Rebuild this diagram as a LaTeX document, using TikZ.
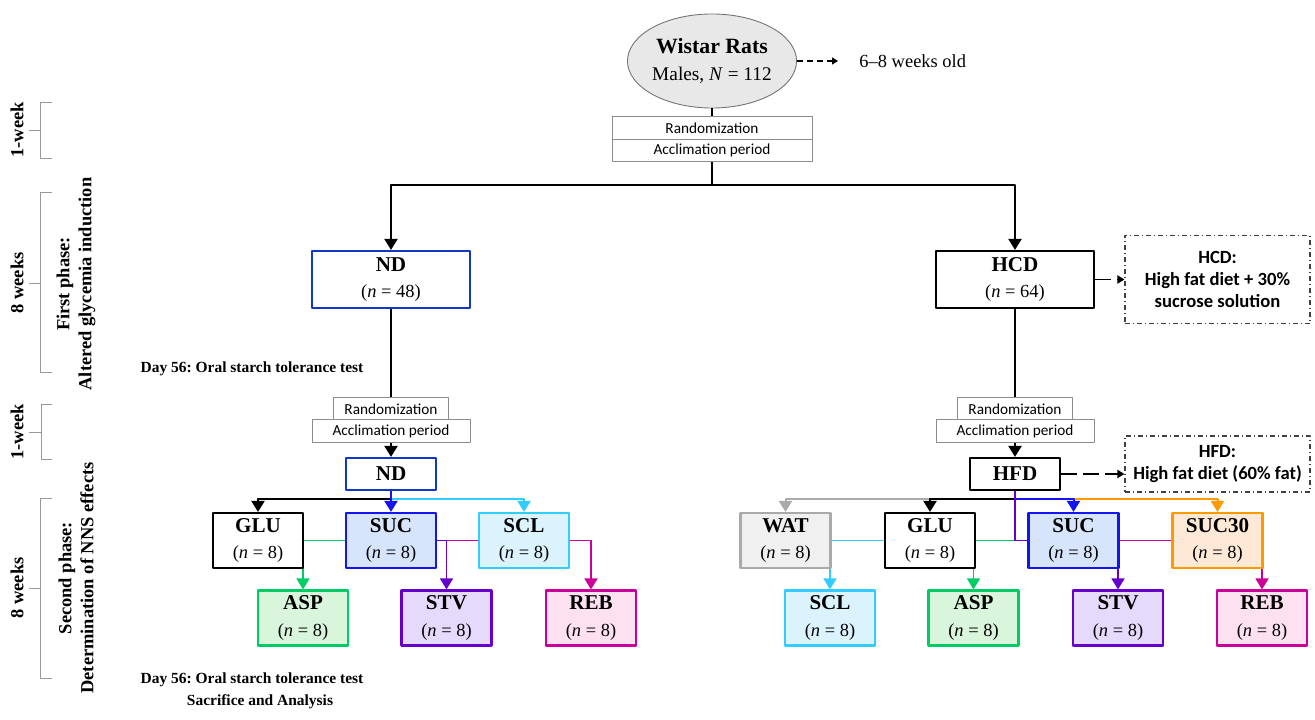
\documentclass[tikz,border=0pt]{standalone}
\usepackage{fontspec}
\setmainfont{Liberation Serif}
\newfontfamily\calibri{Carlito}
\usetikzlibrary{arrows.meta,shapes.geometric,backgrounds}
\definecolor{ratgray}{RGB}{232,232,232}
\definecolor{ndblue}{RGB}{16,56,196}
\definecolor{sucblue}{RGB}{20,20,240}
\definecolor{sucfill}{RGB}{214,228,252}
\definecolor{sclcyan}{RGB}{51,204,255}
\definecolor{sclfill}{RGB}{218,243,253}
\definecolor{aspgreen}{RGB}{0,204,102}
\definecolor{aspfill}{RGB}{217,245,220}
\definecolor{stvpurple}{RGB}{102,0,204}
\definecolor{stvfill}{RGB}{230,218,252}
\definecolor{rebpink}{RGB}{204,0,153}
\definecolor{rebfill}{RGB}{253,225,240}
\definecolor{sucorange}{RGB}{255,153,0}
\definecolor{orangefill}{RGB}{253,233,214}
\definecolor{watgray}{RGB}{170,170,170}
\definecolor{watfill}{RGB}{240,240,240}
\newcommand{\grpname}[1]{{\fontsize{12}{15}\selectfont\bfseries #1}}
\frenchspacing
\begin{document}
\begin{tikzpicture}[x=0.2mm,y=-0.2mm,line join=round,>={Triangle[width=2.6mm,length=2.2mm]},
	box/.style={draw,fill=white,line width=1.2pt,inner sep=0pt,align=center,minimum width=18mm,minimum height=11mm,font=\fontsize{10.5}{15}\selectfont},
	wide/.style={box,minimum width=31.6mm,minimum height=11.4mm},
	diet/.style={box,minimum height=6.4mm},
	rnd/.style={draw=black!45,fill=white,line width=0.5pt,inner sep=0pt,minimum height=4.5mm,font=\calibri\fontsize{8.7}{10}\selectfont},
	note/.style={draw=black!75,line width=0.6pt,dash pattern=on 1mm off 0.6mm on 0.2mm off 0.6mm,inner sep=0pt,minimum width=37mm,align=center,font=\calibri\bfseries\fontsize{10.6}{12.5}\selectfont},
	wire/.style={line width=0.4mm},
	link/.style={wire,->},
	clink/.style={line width=0.3mm,->},
	nlink/.style={line width=0.35mm,dash pattern=on 3.2mm off 1.2mm,-{Triangle[width=1.6mm,length=1.4mm]}},
	side/.style={rotate=90,align=center,font=\bfseries\fontsize{10.5}{12.5}\selectfont},
	brk/.style={draw=black!40,line width=0.5pt},
	day/.style={font=\bfseries\fontsize{8.8}{10}\selectfont}]
	\useasboundingbox (0,0) rectangle (1315,720);
	\node[ellipse,draw=black!55,line width=0.5pt,fill=ratgray,minimum width=31.2mm,minimum height=18.8mm,inner sep=0pt,align=center,font=\fontsize{11}{15.4}\selectfont] (rats) at (712,61) {{\fontsize{12.4}{15}\selectfont\bfseries Wistar Rats}\\Males, \textit{N} = 112};
	\node[anchor=west,inner xsep=12pt,inner ysep=2pt,font=\fontsize{10.5}{12}\selectfont] (age) at (838,61) {6--8 weeks old};
	\node[rnd,minimum width=40mm] (rand0) at (712,128) {Randomization};
	\node[rnd,minimum width=40mm] (accl0) at (712,150.5) {Acclimation period};
	\node[wide,draw=ndblue] (nd1) at (391,279.5) {\grpname{ND}\\(\textit{n} = 48)};
	\node[wide] (hcd) at (1015,279.5) {\grpname{HCD}\\(\textit{n} = 64)};
	\node[note,minimum height=17.6mm] (hcdnote) at (1217.5,279.5) {HCD:\\High fat diet + 30\%\\sucrose solution};
	\node[rnd,minimum width=23mm] (rand1) at (391,409) {Randomization};
	\node[rnd,minimum width=31.6mm] (accl1) at (391,431) {Acclimation period};
	\node[rnd,minimum width=23mm] (rand2) at (1015,409) {Randomization};
	\node[rnd,minimum width=31.6mm] (accl2) at (1015,431) {Acclimation period};
	\node[diet,draw=ndblue] (nd2) at (391,474) {\grpname{ND}};
	\node[diet] (hfd) at (1015,474) {\grpname{HFD}};
	\node[note,minimum height=11.2mm] (hfdnote) at (1217.5,464) {HFD:\\High fat diet (60\% fat)};
	\node[box] (glu1) at (258,540.5) {\grpname{GLU}\\(\textit{n} = 8)};
	\node[box,draw=sucblue,fill=sucfill] (suc1) at (391,540.5) {\grpname{SUC}\\(\textit{n} = 8)};
	\node[box,draw=sclcyan,fill=sclfill] (scl1) at (524,540.5) {\grpname{SCL}\\(\textit{n} = 8)};
	\node[box,draw=aspgreen,fill=aspfill] (asp1) at (303,618) {\grpname{ASP}\\(\textit{n} = 8)};
	\node[box,draw=stvpurple,fill=stvfill] (stv1) at (446.5,618) {\grpname{STV}\\(\textit{n} = 8)};
	\node[box,draw=rebpink,fill=rebfill] (reb1) at (591,618) {\grpname{REB}\\(\textit{n} = 8)};
	\node[box,draw=watgray,fill=watfill] (wat) at (785.5,540.5) {\grpname{WAT}\\(\textit{n} = 8)};
	\node[box] (glu2) at (930,540.5) {\grpname{GLU}\\(\textit{n} = 8)};
	\node[box,draw=sucblue,fill=sucfill] (suc2) at (1073.5,540.5) {\grpname{SUC}\\(\textit{n} = 8)};
	\node[box,draw=sucorange,fill=orangefill] (suc30) at (1217.5,540.5) {\grpname{SUC30}\\(\textit{n} = 8)};
	\node[box,draw=sclcyan,fill=sclfill] (scl2) at (830,618) {\grpname{SCL}\\(\textit{n} = 8)};
	\node[box,draw=aspgreen,fill=aspfill] (asp2) at (973.5,618) {\grpname{ASP}\\(\textit{n} = 8)};
	\node[box,draw=stvpurple,fill=stvfill] (stv2) at (1118,618) {\grpname{STV}\\(\textit{n} = 8)};
	\node[box,draw=rebpink,fill=rebfill] (reb2) at (1262,618) {\grpname{REB}\\(\textit{n} = 8)};
	\node[side] (wk1a) at (17,130) {1-week};
	\node[side] (wk8a) at (17,283) {8 weeks};
	\node[side] (ph1) at (76,284) {First phase:\\Altered glycemia induction};
	\node[side] (wk1b) at (17,432) {1-week};
	\node[side] (wk8b) at (17,588) {8 weeks};
	\node[side] (ph2) at (76,578) {Second phase:\\Determination of NNS effects};
	\node[day] (ost1) at (252,369) {Day 56: Oral starch tolerance test};
	\node[day] (ost2) at (252,680) {Day 56: Oral starch tolerance test};
	\node[day] (sac) at (260,702) {Sacrifice and Analysis};
	\draw[brk] (52,102) -- (40,102) -- (40,158) -- (52,158) (29,130) -- (40,130);
	\draw[brk] (52,192) -- (40,192) -- (40,372) -- (52,372) (29,283) -- (40,283);
	\draw[brk] (52,404) -- (41,404) -- (41,459) -- (52,459) (29,432) -- (41,432);
	\draw[brk] (52,498) -- (40,498) -- (40,678) -- (52,678) (29,588) -- (40,588);
	\draw[line width=0.25mm,dash pattern=on 1.2mm off 0.8mm,-{Triangle[width=1.4mm,length=1.2mm]}] (rats.east) -- (age.west);
	\draw[wire] (rats.south) -- (rand0.north);
	\draw[link] (accl0.south) -- ++(0,23) -| (nd1.north);
	\draw[link] (accl0.south) -- ++(0,23) -| (hcd.north);
	\draw[nlink] (hcd.east) -- (hcdnote.west);
	\draw[wire] (nd1.south) -- (rand1.north);
	\draw[link] (accl1.south) -- (nd2.north);
	\draw[wire] (hcd.south) -- (rand2.north);
	\draw[link] (accl2.south) -- (hfd.north);
	\draw[nlink] (hfd.east) -- (hfd.east -| hfdnote.west);
	\draw[link,sclcyan] (nd2.south) -- ++(0,8) -| (scl1.north);
	\draw[link] (nd2.south) -- ++(0,8) -| (glu1.north);
	\draw[link,sucblue] (nd2.south) -- (suc1.north);
	\draw[link,watgray] (hfd.south) -- ++(0,8) -| (wat.north);
	\draw[link,sucorange] (hfd.south) -- ++(0,8) -| (suc30.north);
	\draw[link] (hfd.south) -- ++(0,8) -| (glu2.north);
	\draw[link,sucblue] (hfd.south) -- ++(0,8) -| (suc2.north);
	\begin{scope}[on background layer]
		\draw[clink,aspgreen] (suc1) -| (asp1);
		\draw[clink,stvpurple] (suc1) -| (stv1);
		\draw[clink,rebpink] (stv1.north |- scl1.west) -| (reb1);
		\draw[clink,sclcyan] (glu2) -| (scl2);
		\draw[clink,aspgreen] (suc2) -| (asp2);
		\draw[clink,rebpink] (stv2.north |- suc30.west) -| (reb2);
	\end{scope}
	\draw[clink,stvpurple,-] (hfd.south) -- (hfd.south |- suc2.west) -- (suc2.west);
	\begin{scope}[on background layer]
		\draw[clink,stvpurple] (suc2.west) -| (stv2);
	\end{scope}
\end{tikzpicture}
\end{document}
